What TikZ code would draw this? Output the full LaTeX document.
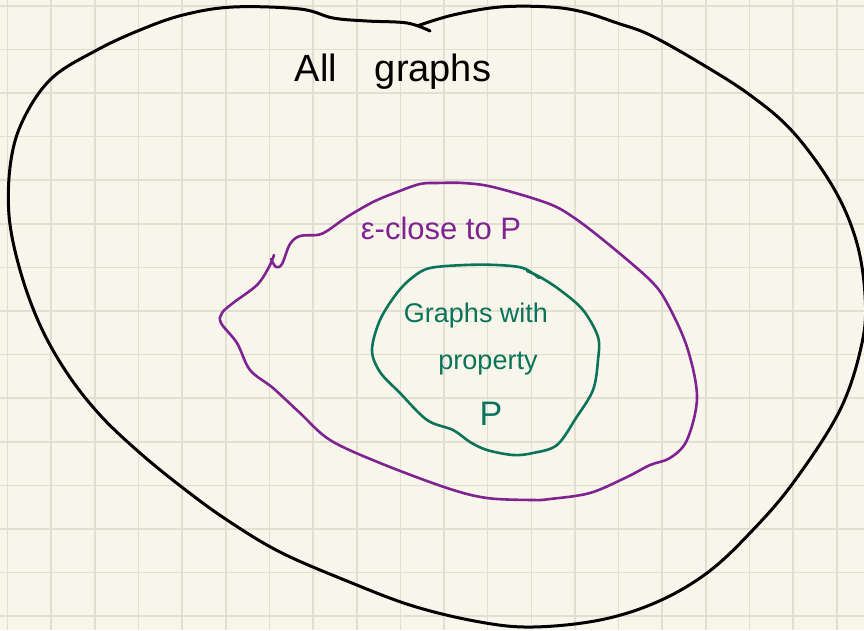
\documentclass[tikz,border=0pt]{standalone}
\usepackage{fontspec}
\setmainfont{Liberation Sans}
\definecolor{paper}{HTML}{F8F6EA}
\definecolor{gridc}{HTML}{E2DFD2}
\definecolor{purp}{HTML}{7E2391}
\definecolor{grn}{HTML}{0A7359}
\tikzset{
  gridline/.style={gridc, line width=1.6pt},
  outerline/.style={black, line width=3pt, line cap=round, line join=round},
  midline/.style={purp, line width=2.6pt, line cap=round, line join=round},
  innerline/.style={grn, line width=2.6pt, line cap=round, line join=round},
  blacktext/.style={black, anchor=base, inner sep=0pt, font=\fontsize{38}{42}\selectfont},
  purptext/.style={purp, anchor=base, inner sep=0pt, font=\fontsize{31}{36}\selectfont},
  grntext/.style={grn, anchor=base, inner sep=0pt, font=\fontsize{27}{32}\selectfont},
}
\begin{document}
\begin{tikzpicture}[x=1pt,y=-1pt]
\fill[paper] (0,0) rectangle (864,630);
\useasboundingbox (0,0) rectangle (864,630);
\begin{scope}
\clip (0,0) rectangle (864,630);
\foreach \i in {0,...,19} \draw[gridline] ({7.5+43.65*\i},0) -- ({7.5+43.65*\i},630);
\foreach \j in {0,...,14} \draw[gridline] (0,{5.7+43.6*\j}) -- (864,{5.7+43.6*\j});

% outer black loop
\draw[outerline] plot[smooth, tension=0.6] coordinates {
 (417,26) (453,15) (500,7) (550,7) (583,12) (617,23) (650,35) (700,63)
 (750,95) (793,132) (833,187) (856,240) (865,295) (862,343) (840,410)
 (793,483) (750,533) (707,573) (657,602) (600,620) (533,627) (480,622)
 (413,606) (347,581) (280,552) (227,520) (183,488) (140,453) (100,415)
 (67,373) (40,325) (20,270) (9,215) (11,160) (24,118) (52,78)
 (97,50) (140,30) (183,15) (233,7) (300,9) (333,18) (367,21) (407,23) (430,31)};

% purple loop
\draw[midline] plot[smooth, tension=0.55] coordinates {
 (271,259) (276,267) (282,264) (290,244) (300,236) (317,235) (327,231)
 (347,217) (373,202) (397,192) (420,184) (437,183) (463,183) (493,187)
 (547,203) (573,217) (607,243) (650,280) (667,303) (687,347) (697,397)
 (687,440) (670,458) (650,465) (627,477) (590,493) (550,499) (533,500)
 (487,498) (447,488) (380,463) (330,440) (300,413) (273,388) (250,370)
 (237,343) (221,323) (222,313) (233,303) (257,285) (269,267) (274,255)};

% green loop
\draw[innerline] plot[smooth, tension=0.55] coordinates {
 (539,278) (523,268) (497,265) (465,265) (430,268) (413,277) (397,293)
 (380,320) (372,350) (380,372) (400,393) (427,420) (453,430) (470,442)
 (487,450) (513,455) (533,453) (557,445) (576,418) (593,390) (598,360)
 (598,337) (583,310) (560,290) (540,277) (527,271)};
\end{scope}

\node[blacktext] (all) at (316,81) {All};
\node[blacktext] (graphs) at (433,81) {graphs};
\node[purptext] (close) at (441,239) {ε-close to P};
\node[grntext] (gwith) at (476,322) {Graphs with};
\node[grntext] (prop) at (488,369) {property};
\node[grntext, font=\fontsize{34}{38}\selectfont] (pp) at (491,425) {P};
\end{tikzpicture}
\end{document}
